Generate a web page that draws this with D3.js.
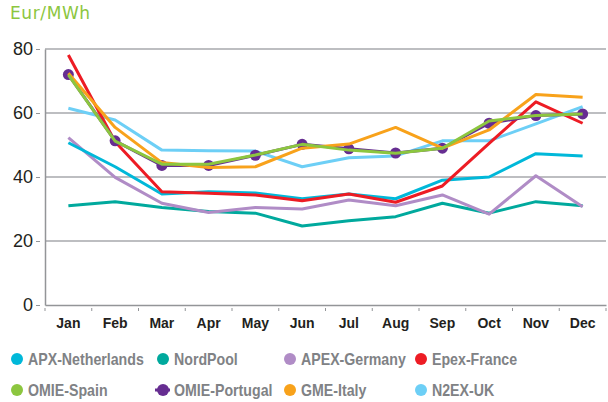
<!DOCTYPE html>
<html>
<head>
<meta charset="utf-8">
<script src="https://cdn.jsdelivr.net/npm/d3@7"></script>
<style>
  body { margin: 0; background: #fff; }
  svg { display: block; font-family: "Liberation Sans", Arial, sans-serif; }
</style>
</head>
<body>
<svg id="chart" width="608" height="402"></svg>
<script>
const months = ['Jan', 'Feb', 'Mar', 'Apr', 'May', 'Jun', 'Jul', 'Aug', 'Sep', 'Oct', 'Nov', 'Dec'];
const yTicks = [0, 20, 40, 60, 80];

const apxNetherlands = [50.7, 43.2, 34.7, 35.4, 35, 33.2, 34.7, 33.2, 39, 40, 47.3, 46.6];
const nordPool = [31, 32.3, 30.5, 29.2, 28.7, 24.7, 26.3, 27.6, 31.8, 28.7, 32.3, 31];
const apexGermany = [52.3, 39.9, 31.8, 28.9, 30.5, 30, 32.8, 31, 34.4, 28.4, 40.4, 30.7];
const epexFrance = [78.1, 51, 35.4, 34.9, 34.4, 32.6, 34.7, 32.1, 37.2, 50.5, 63.5, 56.8];
const omieSpain = [71.9, 51.2, 44, 44, 46.9, 50.2, 48.4, 47.4, 49, 57.5, 59.2, 59.7];
const omiePortugal = [72, 51.3, 43.6, 43.6, 46.8, 50.2, 48.8, 47.5, 49, 56.8, 59.2, 59.7];
const gmeItaly = [72.4, 55.5, 44.5, 43, 43.2, 49, 50.3, 55.5, 49, 54.7, 65.8, 64.9];
const n2exUK = [61.5, 57.8, 48.4, 48.2, 48.1, 43.2, 46, 46.6, 51.3, 51.3, 56.6, 62];

const series = [
  { name: 'APX-Netherlands', values: apxNetherlands, color: '#00b8d9' },
  { name: 'NordPool', values: nordPool, color: '#00a99d' },
  { name: 'APEX-Germany', values: apexGermany, color: '#b08cc6' },
  { name: 'Epex-France', values: epexFrance, color: '#ed1c24' },
  { name: 'OMIE-Spain', values: omieSpain, color: '#8cc63f' },
  { name: 'OMIE-Portugal', values: omiePortugal, color: '#662d91', markers: true },
  { name: 'GME-Italy', values: gmeItaly, color: '#f8a21b' },
  { name: 'N2EX-UK', values: n2exUK, color: '#6dcff6' }
];
// drawing order (green sits over the portugal markers)
const drawOrder = ['N2EX-UK', 'NordPool', 'APEX-Germany', 'APX-Netherlands', 'Epex-France', 'OMIE-Portugal', 'GME-Italy', 'OMIE-Spain'];

const svg = d3.select('#chart');
const mLeft = 45, mRight = 606, mTop = 49, mBottom = 305;

const x = d3.scaleBand().domain(months).range([mLeft, mRight]);
const y = d3.scaleLinear().domain([0, 80]).range([mBottom, mTop]);

// title
svg.append('text')
  .attr('x', 10)
  .attr('y', 19)
  .attr('fill', '#8cc63f')
  .attr('font-size', 17)
  .attr('font-family', 'DejaVu Sans, sans-serif')
  .attr('letter-spacing', 0.6)
  .text('Eur/MWh');

// grid lines
svg.append('g')
  .selectAll('line')
  .data(yTicks.filter(d => d > 0))
  .join('line')
  .attr('x1', mLeft)
  .attr('x2', mRight)
  .attr('y1', d => y(d))
  .attr('y2', d => y(d))
  .attr('stroke', '#a7a9ac')
  .attr('stroke-width', 1.5);

// y axis
const yAxis = svg.append('g')
  .attr('transform', `translate(${mLeft},0)`)
  .call(d3.axisLeft(y).tickValues(yTicks).tickSize(0).tickPadding(12));
yAxis.select('.domain').attr('stroke', '#939598').attr('stroke-width', 1.5);
yAxis.selectAll('text').attr('font-size', 18).attr('fill', '#231f20').attr('font-family', 'Liberation Sans, Arial');
yAxis.selectAll('.tick').append('line')
  .attr('x1', -9).attr('x2', -5)
  .attr('stroke', '#939598').attr('stroke-width', 1);

// x axis
const xAxis = svg.append('g')
  .attr('transform', `translate(0,${mBottom})`)
  .call(d3.axisBottom(x).tickSize(0).tickPadding(13));
xAxis.select('.domain').attr('stroke', '#939598').attr('stroke-width', 1.5);
xAxis.selectAll('text')
  .attr('font-size', 14)
  .attr('font-weight', 'bold')
  .attr('fill', '#231f20')
  .attr('font-family', 'Liberation Sans, Arial');
xAxis.selectAll('.bandtick')
  .data(d3.range(months.length + 1))
  .join('line')
  .attr('x1', i => mLeft + i * x.step())
  .attr('x2', i => mLeft + i * x.step())
  .attr('y1', 3)
  .attr('y2', 6)
  .attr('stroke', '#939598');

// lines
const line = d3.line()
  .x((d, i) => x(months[i]) + x.bandwidth() / 2)
  .y(d => y(d));

const byName = {};
series.forEach(s => byName[s.name] = s);

drawOrder.forEach(name => {
  const s = byName[name];
  svg.append('path')
    .datum(s.values)
    .attr('fill', 'none')
    .attr('stroke', s.color)
    .attr('stroke-width', 3)
    .attr('stroke-linejoin', 'round')
    .attr('d', line);
  if (s.markers) {
    svg.append('g')
      .selectAll('circle')
      .data(s.values)
      .join('circle')
      .attr('cx', (d, i) => x(months[i]) + x.bandwidth() / 2)
      .attr('cy', d => y(d))
      .attr('r', 5.5)
      .attr('fill', s.color);
  }
});

// legend
const legCols = [17, 163, 290, 421];
const legRows = [359, 390];
const legend = svg.append('g');
series.forEach((s, i) => {
  const cx = legCols[i % 4];
  const cy = legRows[Math.floor(i / 4)];
  const g = legend.append('g');
  if (s.markers) {
    g.append('line')
      .attr('x1', cx - 8).attr('x2', cx + 7)
      .attr('y1', cy).attr('y2', cy)
      .attr('stroke', s.color).attr('stroke-width', 3);
  }
  g.append('circle')
    .attr('cx', cx)
    .attr('cy', cy)
    .attr('r', 6)
    .attr('fill', s.color);
  g.append('text')
    .attr('transform', `translate(${cx + 11},${cy + 6}) scale(0.86,1)`)
    .attr('font-size', 16.5)
    .attr('font-weight', 'bold')
    .attr('fill', '#808285')
    .text(s.name);
});
</script>
</body>
</html>
